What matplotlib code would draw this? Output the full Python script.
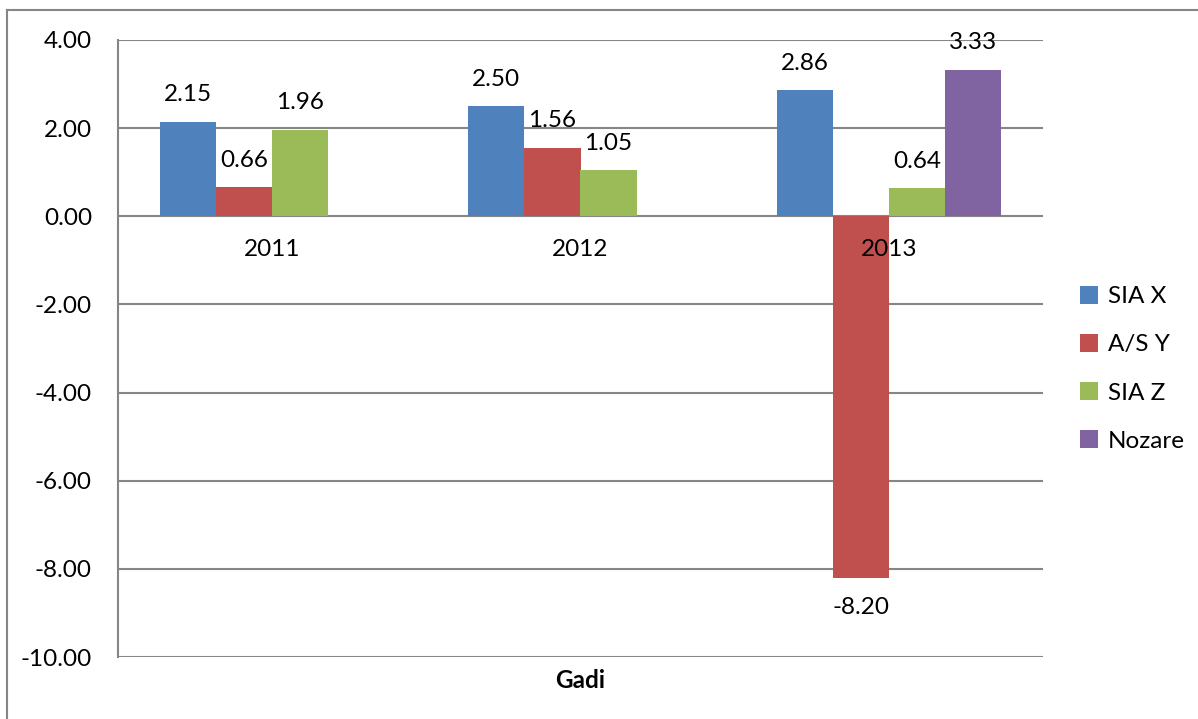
import numpy as np
import matplotlib
matplotlib.use("Agg")
import matplotlib.pyplot as plt
from matplotlib.lines import Line2D
from matplotlib.patches import Patch

# Data
years = ["2011", "2012", "2013"]
series_names = ["SIA X", "A/S Y", "SIA Z", "Nozare"]
sia_x = [2.15, 2.50, 2.86]
as_y = [0.66, 1.56, -8.20]
sia_z = [1.96, 1.05, 0.64]
nozare = [np.nan, np.nan, 3.33]
y_ticks = [4, 2, 0, -2, -4, -6, -8, -10]
x_title = "Gadi"

colors = ["#4F81BD", "#C0504D", "#9BBB59", "#8064A2"]
grid_color = "#868686"
font = "Lato"
fs = 17.5

W, H = 1198, 719
fig = plt.figure(figsize=(W / 100, H / 100), dpi=100)
plt.rcParams["font.family"] = [font, "DejaVu Sans"]

# plot area in pixel coordinates
left, right, top, bottom = 118, 1043, 40, 657
ax = fig.add_axes([left / W, 1 - bottom / H, (right - left) / W, (bottom - top) / H])

n_series = len(series_names)
gap_ratio = 1.5
bar_w = 1.0 / (n_series + gap_ratio)
x = np.arange(len(years))
all_series = [sia_x, as_y, sia_z, nozare]

for k, (vals, c) in enumerate(zip(all_series, colors)):
    xs = x + (k - (n_series - 1) / 2) * bar_w
    v = np.array(vals, dtype=float)
    ax.bar(xs, np.nan_to_num(v), width=bar_w, color=c, zorder=3, linewidth=0)
    for xi, vi in zip(xs, v):
        if np.isnan(vi):
            continue
        off = 27 if vi >= 0 else -30
        ax.annotate(f"{vi:.2f}", xy=(xi, vi), xytext=(0, off), textcoords="offset pixels",
                    ha="center", va="center", fontsize=fs, color="black", zorder=5)

# category labels next to the zero line
for xi, lab in zip(x, years):
    ax.annotate(lab, xy=(xi, 0), xytext=(0, -33), textcoords="offset pixels",
                ha="center", va="center", fontsize=fs, color="black", zorder=5)

ax.set_xlim(-0.5, len(years) - 0.5)
ax.set_ylim(-10, 4)
ax.set_yticks(y_ticks)
ax.set_yticklabels([f"{t:.2f}" for t in y_ticks], fontsize=fs)
ax.set_xticks([])
ax.tick_params(axis="y", length=0, pad=26 * 0.72)
ax.yaxis.grid(True, color=grid_color, linewidth=1.5, zorder=1)
ax.set_axisbelow(True)
for s in ["top", "right", "bottom"]:
    ax.spines[s].set_visible(False)
ax.spines["left"].set_color(grid_color)
ax.spines["left"].set_linewidth(1.5)

fig.text((left + right) / 2 / W, 1 - 680 / H, x_title, ha="center", va="center",
         fontsize=fs, fontweight="bold")

# legend
handles = [Patch(facecolor=c, edgecolor="none") for c in colors]
leg = fig.legend(handles, series_names, loc="upper left",
                 bbox_to_anchor=(1080 / W, 1 - 286 / H), frameon=False,
                 fontsize=fs, handlelength=0.75, handleheight=0.75,
                 handletextpad=0.4, labelspacing=1.1, borderaxespad=0, borderpad=0)

# chart border
fig.add_artist(Line2D([7 / W, 7 / W], [0, 1 - 10 / H], transform=fig.transFigure,
                      color=grid_color, linewidth=1.5))
fig.add_artist(Line2D([7 / W, 1], [1 - 10 / H, 1 - 10 / H], transform=fig.transFigure,
                      color=grid_color, linewidth=1.5))

fig.savefig("out.png", dpi=100)
